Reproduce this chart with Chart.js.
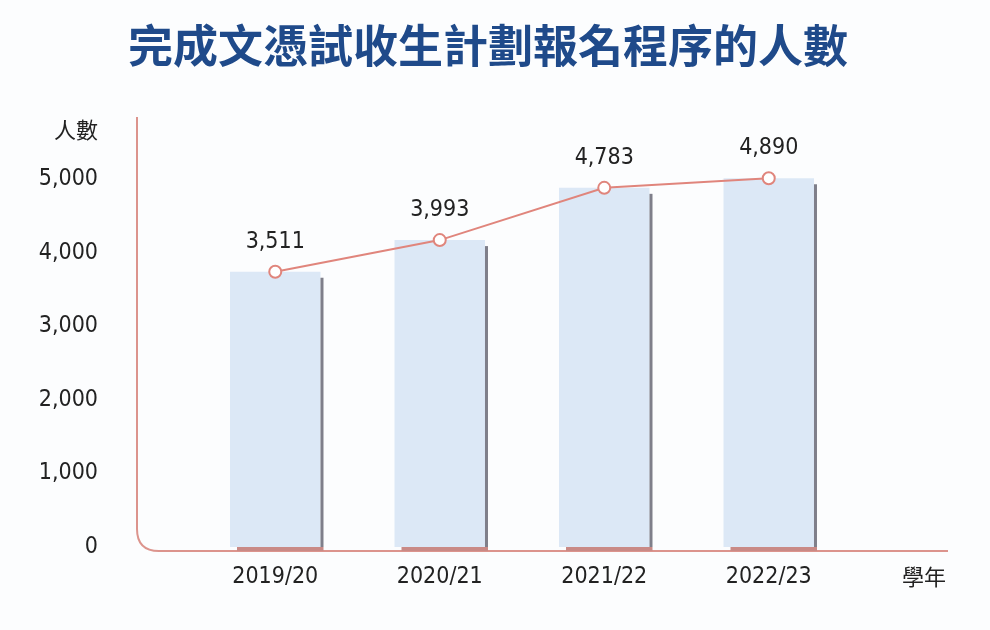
<!DOCTYPE html>
<html>
<head>
<meta charset="utf-8">
<script src="https://cdn.jsdelivr.net/npm/chart.js@4.4.1/dist/chart.umd.min.js"></script>
<style>
  html, body { margin: 0; padding: 0; background: #fcfdfe; }
  #wrap { width: 990px; height: 630px; }
</style>
</head>
<body>
<div id="wrap"><canvas id="chart" width="990" height="630"></canvas></div>
<script>
// data
const categories = ["2019/20", "2020/21", "2021/22", "2022/23"];
const applicants = [3511, 3993, 4783, 4890];      // printed numbers
const drawnHeights = [3740, 4170, 4880, 5010];    // bar/point heights as drawn
const yTicks = [0, 1000, 2000, 3000, 4000, 5000];
const titleText = "完成文憑試收生計劃報名程序的人數";
const yAxisName = "人數";
const xAxisName = "學年";

const numFont = '"DejaVu Sans Condensed", "DejaVu Sans", sans-serif';
const cjkFont = '"Noto Sans CJK TC", "Noto Sans CJK SC", sans-serif';
const lineColor = "#e0857c";
const axisColor = "#dc948d";

// title, axis lines, bar shadows, value labels, axis names
const decorations = {
  id: "decorations",
  beforeDatasetsDraw(chart) {
    const ctx = chart.ctx;
    const a = chart.chartArea;
    const left = a.left - 56, top = a.top - 62, bottom = a.bottom + 4, right = a.right + 97;
    const r = 22;
    ctx.save();
    ctx.strokeStyle = axisColor;
    ctx.lineWidth = 2;
    ctx.beginPath();
    ctx.moveTo(left, top);
    ctx.lineTo(left, bottom - r);
    ctx.quadraticCurveTo(left, bottom, left + r, bottom);
    ctx.lineTo(right, bottom);
    ctx.stroke();
    ctx.restore();
  },
  afterDatasetDraw(chart, args) {
    if (args.index !== 0) return;
    const ctx = chart.ctx;
    ctx.save();
    chart.getDatasetMeta(0).data.forEach(bar => {
      const half = bar.width / 2;
      ctx.fillStyle = "#7f7f8a";
      ctx.fillRect(bar.x + half, bar.y + 6, 3, bar.base - bar.y - 6);
      ctx.fillStyle = "#c98a86";
      ctx.fillRect(bar.x - half + 7, bar.base, bar.width - 4, 4);
    });
    ctx.restore();
  },
  afterDraw(chart) {
    const ctx = chart.ctx;
    const a = chart.chartArea;
    ctx.save();
    ctx.textAlign = "center";
    ctx.textBaseline = "middle";
    ctx.fillStyle = "#1f4a8a";
    ctx.font = "bold 45px " + cjkFont;
    ctx.fillText(titleText, chart.width / 2 - 7, 46);

    ctx.fillStyle = "#222";
    ctx.font = "23px " + numFont;
    chart.getDatasetMeta(1).data.forEach((pt, i) => {
      ctx.fillText(applicants[i].toLocaleString("en-US"), pt.x, pt.y - 30);
    });
    ctx.font = "22px " + cjkFont;
    ctx.textAlign = "right";
    ctx.fillText(yAxisName, a.left - 95, a.top - 49);
    ctx.textAlign = "center";
    ctx.fillText(xAxisName, a.right + 73, a.bottom + 30);
    ctx.restore();
  }
};

new Chart(document.getElementById("chart"), {
  data: {
    labels: categories,
    datasets: [
      {
        type: "bar",
        data: drawnHeights,
        backgroundColor: "#dce8f6",
        borderWidth: 0,
        categoryPercentage: 1,
        barPercentage: 0.55,
        clip: false,
        order: 2
      },
      {
        type: "line",
        data: drawnHeights,
        borderColor: lineColor,
        borderWidth: 2,
        pointRadius: 6,
        pointBorderWidth: 2,
        pointBackgroundColor: "#fff",
        pointBorderColor: lineColor,
        tension: 0,
        clip: false,
        order: 1
      }
    ]
  },
  options: {
    responsive: false,
    animation: false,
    layout: { padding: { left: 0, right: 139, top: 179, bottom: 38 } },
    plugins: {
      legend: { display: false },
      tooltip: { enabled: false },
      title: { display: false }
    },
    scales: {
      x: {
        grid: { display: false, drawTicks: false },
        border: { display: false },
        afterFit(scale) { scale.height = 45; },
        ticks: { color: "#222", padding: 16, font: { family: numFont, size: 23 } }
      },
      y: {
        min: 0,
        max: 5000,
        grid: { display: false, drawTicks: false },
        border: { display: false },
        afterFit(scale) {
          scale.width = 193;
          // the big tick padding is only meant to push labels left
          scale.paddingTop = 12;
          scale.paddingBottom = 12;
        },
        afterBuildTicks(scale) { scale.ticks = yTicks.map(v => ({ value: v })); },
        ticks: {
          color: "#222",
          padding: 95,
          font: { family: numFont, size: 23 },
          callback: v => v.toLocaleString("en-US")
        }
      }
    }
  },
  plugins: [decorations]
});
</script>
</body>
</html>
